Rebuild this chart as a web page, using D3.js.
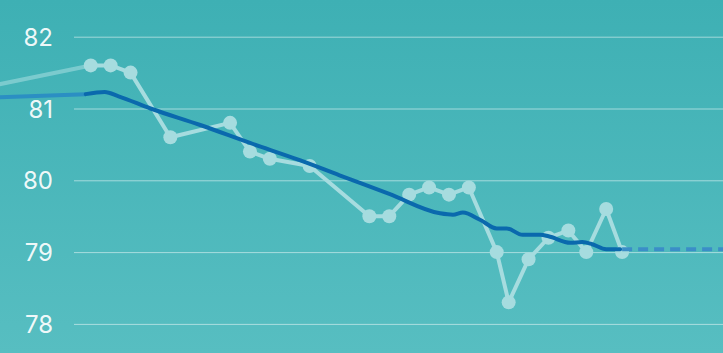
<!DOCTYPE html>
<html>
<head>
<meta charset="utf-8">
<script src="https://cdn.jsdelivr.net/npm/d3@7"></script>
<style>
  html, body { margin: 0; padding: 0; overflow: hidden; }
  svg { display: block; }
</style>
</head>
<body>
<svg width="723" height="353"></svg>
<script>
// weigh-ins (days from first visible entry)
const days = [0, 1, 2, 4, 7, 8, 9, 11, 14, 15, 16, 17, 18, 19, 20.4, 21, 22, 23, 24, 24.9, 25.9, 26.7];
const weights = [81.6, 81.6, 81.5, 80.6, 80.8, 80.4, 80.3, 80.2, 79.5, 79.5, 79.8, 79.9, 79.8, 79.9, 79.0, 78.3, 78.9, 79.2, 79.3, 79.0, 79.6, 79.0];
// entry before the visible range
const prevDay = [-7];
const prevWeight = [81.2];

// trend line
const trendDays = [-0.25, 0.7, 1.4, 3, 5.5, 8, 10.5, 12.5, 15, 17.55, 18.2, 18.7, 19.56, 20.4, 20.9, 21.7, 22.6, 23, 24.1, 24.7, 25.2, 25.9, 26.6];
const trendValues = [81.2, 81.23, 81.17, 81.0, 80.77, 80.52, 80.28, 80.07, 79.81, 79.54, 79.52, 79.55, 79.45, 79.33, 79.33, 79.24, 79.24, 79.22, 79.13, 79.14, 79.11, 79.04, 79.04];
const prevTrendDays = [-7, -0.25];
const prevTrendValues = [81.13, 81.2];
const projectionDays = [26.6, 31.8];
const projectionValues = [79.04, 79.04];

const yTicks = [78, 79, 80, 81, 82];

const width = 723, height = 353;
const svg = d3.select("svg");

const defs = svg.append("defs");
const grad = defs.append("linearGradient")
    .attr("id", "bg").attr("x1", 0).attr("y1", 0).attr("x2", 0).attr("y2", 1);
grad.append("stop").attr("offset", "0%").attr("stop-color", "#3eb0b4");
grad.append("stop").attr("offset", "100%").attr("stop-color", "#57bec1");

svg.append("rect").attr("width", width).attr("height", height).attr("fill", "url(#bg)");

const x = d3.scaleLinear()
    .domain([-4.56, 31.77])
    .range([0, width]);
const y = d3.scaleLinear()
    .domain([78, 82])
    .range([323.9, 36.7]);

// grid + labels
const yAxis = g => g
    .attr("transform", "translate(74,0)")
    .call(d3.axisLeft(y).tickValues(yTicks).tickSize(-(width - 74)).tickPadding(21).tickFormat(d3.format("d")))
    .call(g => g.select(".domain").remove())
    .call(g => g.selectAll(".tick line")
        .attr("stroke", "rgba(255,255,255,0.5)")
        .attr("stroke-width", 1))
    .call(g => g.selectAll(".tick text")
        .attr("fill", "rgba(255,255,255,0.93)")
        .attr("font-family", "Inter, 'Noto Sans', sans-serif")
        .attr("font-size", 24)
        .attr("dy", "0.36em"));

svg.append("g").call(yAxis);

const pts = days.map((d, i) => [d, weights[i]]);
const line = d3.line().x(d => x(d[0])).y(d => y(d[1]));
const smooth = d3.line().x(d => x(d[0])).y(d => y(d[1])).curve(d3.curveMonotoneX);

// faded segment from earlier entry
svg.append("path")
    .datum([[prevDay[0], prevWeight[0]], pts[0]])
    .attr("fill", "none")
    .attr("stroke", "rgba(170,222,225,0.55)")
    .attr("stroke-width", 4)
    .attr("d", line);

svg.append("path")
    .datum(pts)
    .attr("fill", "none")
    .attr("stroke", "#a6dcdf")
    .attr("stroke-width", 4)
    .attr("stroke-linejoin", "round")
    .attr("d", line);

svg.append("g")
    .selectAll("circle")
    .data(pts)
    .join("circle")
    .attr("cx", d => x(d[0]))
    .attr("cy", d => y(d[1]))
    .attr("r", 7)
    .attr("fill", "#a6dcdf");

// trend
svg.append("path")
    .datum(prevTrendDays.map((d, i) => [d, prevTrendValues[i]]))
    .attr("fill", "none")
    .attr("stroke", "#2b8fc3")
    .attr("stroke-width", 4)
    .attr("d", line);

svg.append("path")
    .datum(projectionDays.map((d, i) => [d, projectionValues[i]]))
    .attr("fill", "none")
    .attr("stroke", "#3b8ec7")
    .attr("stroke-width", 4)
    .attr("stroke-dasharray", "10,6")
    .attr("stroke-dashoffset", -2)
    .attr("d", line);

svg.append("path")
    .datum(trendDays.map((d, i) => [d, trendValues[i]]))
    .attr("fill", "none")
    .attr("stroke", "#0a69ad")
    .attr("stroke-width", 4)
    .attr("stroke-linecap", "round")
    .attr("d", smooth);
</script>
</body>
</html>
